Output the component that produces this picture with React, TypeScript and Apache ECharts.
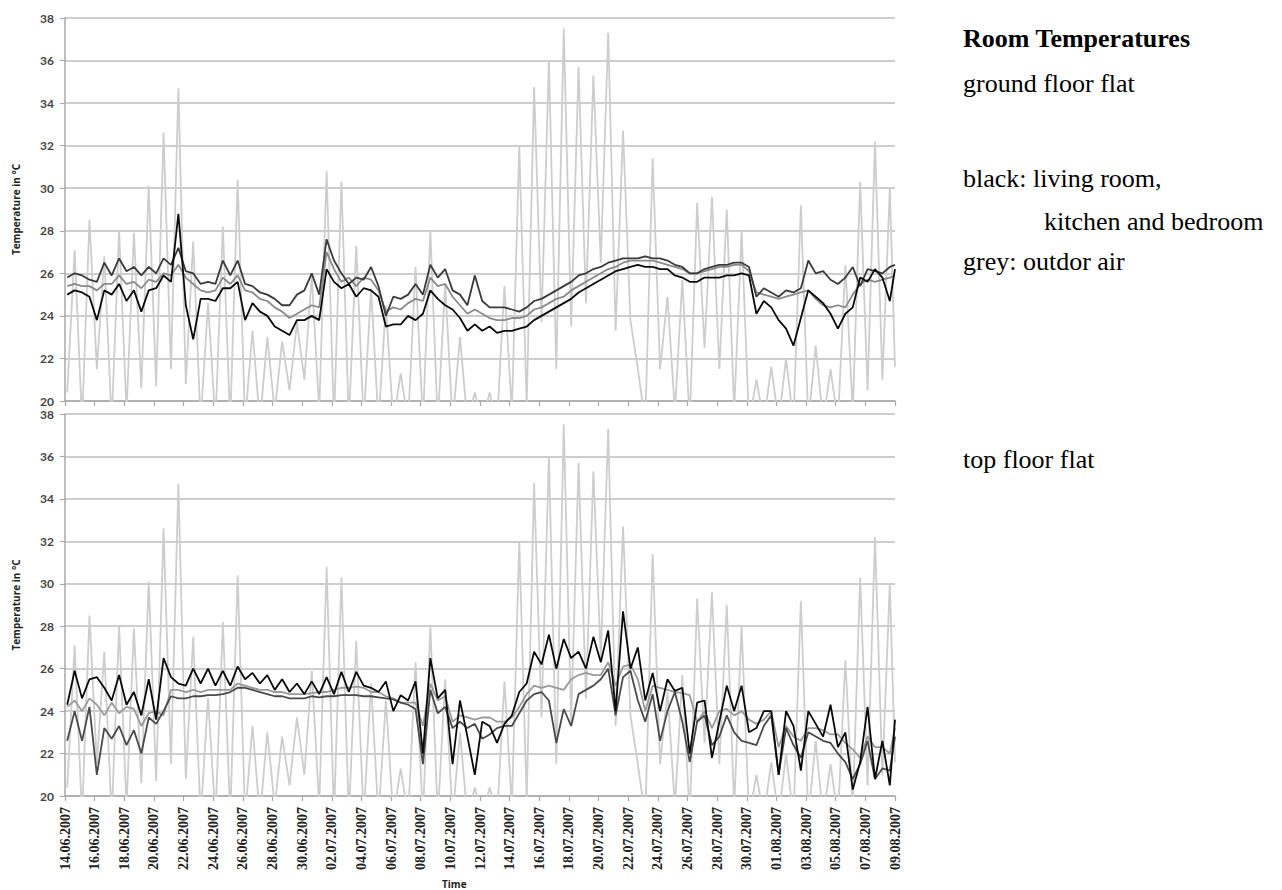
import React, { useEffect, useRef } from "react";
import * as echarts from "echarts";

// x axis: days since 14.06.2007 00:00 ; tick every 2 days
const tickLabels = [
  "14.06.2007", "16.06.2007", "18.06.2007", "20.06.2007", "22.06.2007", "24.06.2007",
  "26.06.2007", "28.06.2007", "30.06.2007", "02.07.2007", "04.07.2007", "06.07.2007",
  "08.07.2007", "10.07.2007", "12.07.2007", "14.07.2007", "16.07.2007", "18.07.2007",
  "20.07.2007", "22.07.2007", "24.07.2007", "26.07.2007", "28.07.2007", "30.07.2007",
  "01.08.2007", "03.08.2007", "05.08.2007", "07.08.2007", "09.08.2007",
];

const yTicks = [20, 22, 24, 26, 28, 30, 32, 34, 36, 38];

// readings twice a day (early morning, afternoon) from 14.06 to 08.08, plus the last one on 09.08
const outdoorAir = [
  20.4, 27.1, 19.0, 28.5, 21.5, 26.8, 19.0, 28.0, 19.5, 27.9,
  20.6, 30.1, 20.7, 32.6, 21.5, 34.7, 20.8, 27.5, 19.0, 24.6,
  19.0, 28.2, 19.0, 30.4, 19.0, 23.3, 19.0, 23.0, 19.5, 22.8,
  20.5, 23.7, 21.0, 25.9, 19.5, 30.8, 19.0, 30.3, 19.0, 27.3,
  19.0, 25.3, 19.0, 24.5, 19.0, 21.3, 19.0, 26.3, 19.0, 28.0,
  19.0, 25.5, 19.0, 23.0, 19.0, 20.4, 19.0, 20.4, 19.0, 25.4,
  19.5, 32.0, 19.8, 34.75, 23.7, 36.0, 21.5, 37.5, 23.5, 35.7,
  24.6, 35.3, 26.5, 37.3, 23.3, 32.7, 23.8, 21.5, 19.0, 31.4,
  21.5, 24.9, 19.5, 25.7, 19.0, 29.3, 22.5, 29.6, 21.5, 29.0,
  19.5, 28.0, 19.0, 21.0, 19.0, 21.6, 19.0, 22.0, 19.0, 29.2,
  19.0, 22.6, 19.0, 21.5, 19.0, 26.4, 19.5, 30.3, 20.5, 32.2,
  21.0, 30.0, 21.6,
];

// ground floor flat
const groundA = [
  25.8, 26.0, 25.9, 25.7, 25.6, 26.5, 25.9, 26.7, 26.1, 26.3,
  25.9, 26.3, 26.0, 26.7, 26.4, 27.2, 26.1, 26.0, 25.5, 25.6,
  25.5, 26.6, 25.9, 26.6, 25.5, 25.4, 25.1, 25.0, 24.8, 24.5,
  24.5, 25.0, 25.2, 26.0, 25.0, 27.6, 26.6, 26.0, 25.5, 25.8,
  25.7, 26.3, 25.4, 24.0, 24.9, 24.8, 25.0, 25.5, 25.0, 26.4,
  25.8, 26.2, 25.2, 25.0, 24.5, 25.9, 24.7, 24.4, 24.4, 24.4,
  24.3, 24.2, 24.4, 24.7, 24.8, 25.0, 25.2, 25.4, 25.6, 25.9,
  26.0, 26.2, 26.3, 26.5, 26.6, 26.7, 26.7, 26.7, 26.8, 26.7,
  26.7, 26.6, 26.4, 26.3, 26.0, 26.0, 26.2, 26.3, 26.4, 26.4,
  26.5, 26.5, 26.3, 24.9, 25.3, 25.1, 24.9, 25.2, 25.1, 25.3,
  26.6, 26.0, 26.1, 25.7, 25.5, 25.8, 26.3, 25.4, 26.2, 26.1,
  26.0, 26.3, 26.4,
];
const groundB = [
  25.4, 25.5, 25.4, 25.4, 25.2, 25.5, 25.5, 25.9, 25.5, 25.6,
  25.3, 25.7, 25.6, 26.0, 25.9, 26.4, 25.8, 25.5, 25.2, 25.1,
  25.2, 25.8, 25.5, 25.9, 25.2, 25.1, 24.8, 24.7, 24.4, 24.2,
  23.9, 24.1, 24.3, 24.5, 24.4, 27.0, 26.2, 25.6, 25.8, 25.4,
  25.8, 25.7, 25.2, 24.2, 24.4, 24.3, 24.6, 24.8, 24.7, 25.8,
  25.4, 25.5, 24.9, 24.5, 24.1, 24.3, 24.1, 23.9, 23.8, 23.8,
  23.9, 23.9, 24.0, 24.3, 24.4, 24.6, 24.8, 24.9, 25.2, 25.4,
  25.6, 25.8, 26.0, 26.2, 26.3, 26.5, 26.6, 26.6, 26.6, 26.6,
  26.5, 26.4, 26.3, 26.2, 26.0, 26.0, 26.1, 26.2, 26.3, 26.3,
  26.4, 26.4, 26.1, 25.1, 25.0, 24.9, 24.8, 24.9, 25.0, 25.1,
  25.2, 24.8, 24.5, 24.4, 24.5, 24.4, 25.0, 25.5, 25.7, 25.6,
  25.7, 25.8, 25.9,
];
const groundC = [
  25.0, 25.2, 25.1, 24.9, 23.8, 25.2, 25.0, 25.5, 24.7, 25.2,
  24.2, 25.2, 25.3, 25.9, 25.6, 28.8, 24.5, 22.9, 24.8, 24.8,
  24.7, 25.3, 25.3, 25.6, 23.8, 24.6, 24.2, 24.0, 23.5, 23.3,
  23.1, 23.8, 23.8, 24.0, 23.8, 26.2, 25.6, 25.3, 25.5, 24.9,
  25.3, 25.2, 24.9, 23.5, 23.6, 23.6, 24.0, 23.8, 24.1, 25.2,
  24.8, 24.5, 24.3, 23.9, 23.3, 23.6, 23.3, 23.5, 23.2, 23.3,
  23.3, 23.4, 23.5, 23.8, 24.0, 24.2, 24.4, 24.6, 24.8, 25.1,
  25.3, 25.5, 25.7, 25.9, 26.1, 26.2, 26.3, 26.4, 26.3, 26.3,
  26.2, 26.2, 25.9, 25.8, 25.6, 25.6, 25.8, 25.8, 25.8, 25.9,
  25.9, 26.0, 25.9, 24.1, 24.7, 24.4, 23.8, 23.4, 22.6, 23.9,
  25.2, 24.9, 24.6, 24.1, 23.4, 24.1, 24.4, 25.8, 25.6, 26.2,
  25.8, 24.7, 26.2,
];

// top floor flat
const topA = [
  24.3, 25.9, 24.6, 25.5, 25.6, 25.1, 24.5, 25.7, 24.3, 24.9,
  23.8, 25.5, 23.6, 26.5, 25.6, 25.3, 25.2, 26.0, 25.3, 26.0,
  25.2, 25.9, 25.2, 26.1, 25.5, 25.8, 25.3, 25.7, 25.0, 25.5,
  24.9, 25.3, 24.8, 25.4, 24.8, 25.6, 24.8, 25.85, 24.9, 25.85,
  25.2, 25.1, 24.9, 25.4, 24.0, 24.75, 24.5, 25.4, 22.0, 26.5,
  24.6, 25.0, 21.5, 24.5, 22.8, 21.0, 23.5, 23.3, 22.5, 23.4,
  23.8, 24.9, 25.3, 26.8, 26.2, 27.6, 26.0, 27.4, 26.5, 26.8,
  26.0, 27.5, 26.3, 27.8, 24.0, 28.7, 26.0, 27.0, 24.5, 25.8,
  24.0, 25.5, 24.95, 25.1, 22.0, 24.4, 24.5, 21.8, 23.5, 25.2,
  24.0, 25.2, 23.0, 23.2, 24.0, 24.0, 21.0, 24.0, 23.3, 21.2,
  24.0, 23.4, 22.8, 24.3, 22.3, 23.0, 20.3, 21.6, 24.2, 20.8,
  22.6, 20.5, 23.6,
];
const topB = [
  24.2, 24.5, 24.0, 24.6, 24.3, 23.8, 24.4, 23.9, 24.2, 24.1,
  23.3, 23.9, 24.0, 23.8, 25.0, 25.0, 24.9, 25.0, 24.9, 25.0,
  25.0, 25.0, 25.0, 25.3, 25.2, 25.1, 25.0, 25.0, 24.9, 24.9,
  24.8, 24.8, 24.8, 24.85, 24.9, 24.9, 25.0, 25.1, 25.1, 25.15,
  25.1, 24.9, 24.9, 24.7, 24.6, 24.4, 24.4, 24.4, 23.3, 25.3,
  24.5, 24.7, 23.5, 23.8, 23.7, 23.6, 23.7, 23.7, 23.5, 23.5,
  23.7, 24.2, 24.8, 25.2, 25.1, 25.2, 25.1, 25.0, 25.5, 25.7,
  25.8, 25.7, 25.7, 26.3, 25.2, 26.1, 26.2, 25.5, 24.0, 25.2,
  25.1, 25.0, 24.9, 24.85, 24.75, 23.5, 24.0, 23.2, 24.0, 24.1,
  23.8, 24.0, 23.6, 23.4, 23.6, 24.0, 22.3, 23.3, 22.8, 22.6,
  23.2, 23.2, 23.1, 22.9, 22.9, 22.5, 22.2, 21.8, 22.8, 22.3,
  22.3, 22.0, 23.2,
];
const topC = [
  22.6, 24.0, 22.6, 24.2, 21.0, 23.2, 22.7, 23.3, 22.4, 23.1,
  22.0, 23.7, 23.4, 24.0, 24.7, 24.6, 24.6, 24.7, 24.7, 24.75,
  24.75, 24.8, 24.9, 25.1, 25.1, 25.0, 24.9, 24.8, 24.7, 24.7,
  24.6, 24.6, 24.6, 24.7, 24.65, 24.7, 24.7, 24.75, 24.75, 24.75,
  24.7, 24.7, 24.65, 24.6, 24.55, 24.4, 24.3, 24.1, 21.5, 25.0,
  23.9, 24.2, 23.2, 23.5, 23.2, 23.4, 22.7, 22.9, 23.2, 23.3,
  23.3, 23.9, 24.5, 24.8, 24.9, 24.5, 22.5, 24.1, 23.3, 24.8,
  25.0, 25.2, 25.5, 26.0, 23.8, 25.6, 25.9, 24.5, 23.5, 24.8,
  22.6, 24.0, 24.9, 23.5, 21.6, 23.5, 23.8, 22.4, 22.8, 23.8,
  23.0, 22.6, 22.5, 22.4, 23.3, 23.8, 21.0, 23.2, 22.4, 21.8,
  23.0, 22.8, 22.6, 22.5, 22.0, 21.6, 20.8, 21.5, 22.6, 20.8,
  21.3, 21.2, 22.8,
];

const sampleTimes: number[] = [];
for (let d = 0; d < 56; d++) {
  sampleTimes.push(d + 0.15, d + 0.65);
}
sampleTimes.push(56);

const toPairs = (vals: number[]) => vals.map((v, i) => [sampleTimes[i], v]);

const axisGrey = "#a8a8a8";

function makeXAxis(gridIndex: number, showLabels: boolean) {
  return {
    type: "value",
    gridIndex,
    min: 0,
    max: 56,
    interval: 2,
    axisLine: { show: true, onZero: false, lineStyle: { color: axisGrey, width: 1.5 } },
    axisTick: { show: true, length: 5, lineStyle: { color: axisGrey, width: 1.2 } },
    splitLine: { show: false },
    axisLabel: {
      show: showLabels,
      rotate: 90,
      margin: 11,
      showMinLabel: true,
      showMaxLabel: true,
      fontFamily: "'Liberation Serif', 'Times New Roman', serif",
      fontWeight: "bold",
      fontSize: 14,
      color: "#222",
      formatter: (v: number) => tickLabels[Math.round(v / 2)] ?? "",
    },
  };
}

function makeYAxis(gridIndex: number) {
  return {
    type: "value",
    gridIndex,
    min: yTicks[0],
    max: yTicks[yTicks.length - 1],
    interval: 2,
    name: "Temperature in °C",
    nameLocation: "middle",
    nameGap: 44,
    nameRotate: 90,
    nameTextStyle: {
      fontFamily: "Open Sans",
      fontWeight: "bold",
      fontSize: 10,
      color: "#222",
    },
    axisLine: { show: true, lineStyle: { color: axisGrey, width: 1.5 } },
    axisTick: { show: true, length: 5, lineStyle: { color: axisGrey, width: 1.2 } },
    splitLine: { show: true, lineStyle: { color: "#bdbdbd", width: 1.5 } },
    axisLabel: {
      margin: 11,
      fontFamily: "Lato",
      fontWeight: "bold",
      fontSize: 12,
      lineHeight: 12,
      color: "#444",
    },
  };
}

function lineSeries(name: string, vals: number[], idx: number, color: string, width: number, z: number) {
  return {
    name,
    type: "line",
    xAxisIndex: idx,
    yAxisIndex: idx,
    data: toPairs(vals),
    showSymbol: false,
    symbol: "none",
    clip: true,
    z,
    lineStyle: { color, width },
  };
}

const textStyleBase = {
  fontFamily: "'Liberation Serif', 'Times New Roman', serif",
  fontSize: 26,
  fill: "#000",
  verticalAlign: "middle",
};

export default function App() {
  const ref = useRef<HTMLDivElement>(null);
  useEffect(() => {
    if (!ref.current) return;
    const chart = echarts.init(ref.current, null, { renderer: "svg" });
    chart.setOption({
      animation: false,
      backgroundColor: "#ffffff",
      grid: [
        { left: 65, top: 18, width: 830, height: 383 },
        { left: 65, top: 414, width: 830, height: 382 },
      ],
      xAxis: [makeXAxis(0, false), makeXAxis(1, true)],
      yAxis: [makeYAxis(0), makeYAxis(1)],
      series: [
        lineSeries("outdoor air (ground)", outdoorAir, 0, "#cdcdcd", 1.8, 1),
        lineSeries("ground floor room 1", groundB, 0, "#8a8a8a", 1.8, 2),
        lineSeries("ground floor room 2", groundA, 0, "#3a3a3a", 1.8, 3),
        lineSeries("ground floor room 3", groundC, 0, "#0a0a0a", 1.8, 4),
        lineSeries("outdoor air (top)", outdoorAir, 1, "#cdcdcd", 1.8, 1),
        lineSeries("top floor room 2", topB, 1, "#9a9a9a", 1.8, 2),
        lineSeries("top floor room 3", topC, 1, "#4a4a4a", 1.8, 3),
        lineSeries("top floor room 1", topA, 1, "#0a0a0a", 1.8, 4),
      ],
      graphic: [
        {
          type: "text",
          left: 442,
          top: 879,
          style: { text: "Time", fontFamily: "Open Sans", fontWeight: "bold", fontSize: 10, fill: "#222" },
        },
        { type: "text", x: 963, y: 38, style: { ...textStyleBase, text: "Room Temperatures", fontWeight: "bold" } },
        { type: "text", x: 963, y: 83, style: { ...textStyleBase, text: "ground floor flat" } },
        { type: "text", x: 963, y: 178, style: { ...textStyleBase, text: "black: living room," } },
        { type: "text", x: 1044, y: 221, style: { ...textStyleBase, text: "kitchen and bedroom" } },
        { type: "text", x: 963, y: 261, style: { ...textStyleBase, text: "grey: outdor air" } },
        { type: "text", x: 963, y: 459, style: { ...textStyleBase, text: "top floor flat" } },
      ],
    });
    return () => chart.dispose();
  }, []);
  return (
    <div
      ref={ref}
      style={{ position: "absolute", left: 0, top: 0, width: 1282, height: 890, background: "#fff" }}
    />
  );
}
